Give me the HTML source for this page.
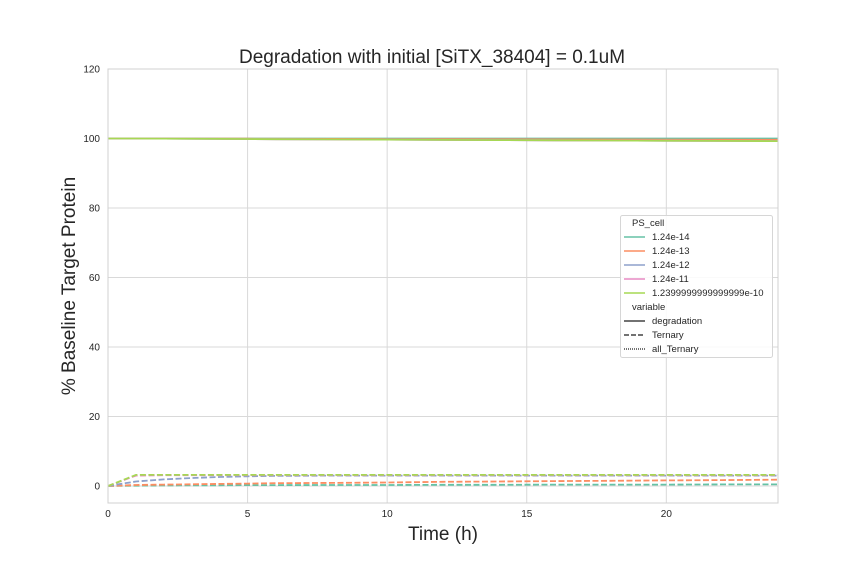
<!DOCTYPE html>
<html><head><meta charset="utf-8"><style>
body{margin:0;background:#fff;}
svg{font-family:"Liberation Sans",sans-serif;display:block;}
</style></head><body>
<svg id="chart" width="864" height="576">
<rect width="864" height="576" fill="#fff"/>
<g id="grid"></g>
<g id="series"></g>
<rect x="108" y="69" width="670" height="434" fill="none" stroke="#d0d0d0" stroke-width="1"/>
<g id="ticks" font-size="10" fill="#262626"></g>
<text x="432" y="63" text-anchor="middle" font-size="19" fill="#262626">Degradation with initial [SiTX_38404] = 0.1uM</text>
<text x="443" y="540" text-anchor="middle" font-size="19" fill="#262626">Time (h)</text>
<text transform="translate(75,286) rotate(-90)" text-anchor="middle" font-size="19" fill="#262626">% Baseline Target Protein</text>
<g font-size="9.5" fill="#262626">
<rect x="620.5" y="215.5" width="152" height="142" rx="2" fill="#fff" fill-opacity="0.85" stroke="#d6d6d6"/>
<text x="632" y="226">PS_cell</text>
<g><line x1="624" y1="237" x2="645" y2="237" stroke="#66c2a5" stroke-width="1.5"/><text x="652" y="240">1.24e-14</text></g>
<g><line x1="624" y1="251" x2="645" y2="251" stroke="#fc8d62" stroke-width="1.5"/><text x="652" y="254">1.24e-13</text></g>
<g><line x1="624" y1="265" x2="645" y2="265" stroke="#8da0cb" stroke-width="1.5"/><text x="652" y="268">1.24e-12</text></g>
<g><line x1="624" y1="279" x2="645" y2="279" stroke="#e78ac3" stroke-width="1.5"/><text x="652" y="282">1.24e-11</text></g>
<g><line x1="624" y1="293" x2="645" y2="293" stroke="#a6d854" stroke-width="1.5"/><text x="652" y="296">1.2399999999999999e-10</text></g>
<text x="632" y="310">variable</text>
<g><line x1="624" y1="321" x2="645" y2="321" stroke="#444" stroke-width="1.5"/><text x="652" y="324">degradation</text></g>
<g><line x1="624" y1="335" x2="645" y2="335" stroke="#444" stroke-width="1.5" stroke-dasharray="5,2"/><text x="652" y="338">Ternary</text></g>
<g><line x1="624" y1="349" x2="645" y2="349" stroke="#444" stroke-width="1.5" stroke-dasharray="1,1"/><text x="652" y="352">all_Ternary</text></g>
</g>
</svg>
<script>
const times=[0,1,2,3,4,5,6,8,10,12,14,16,18,20,22,24];
const colors=["#66c2a5","#fc8d62","#8da0cb","#e78ac3","#a6d854"];
const degradation=[
[100,100,100,100,100,100,100,100,100,100,100,100,100,100,100,100],
[100,100,100,99.98,99.96,99.94,99.92,99.88,99.84,99.8,99.77,99.74,99.71,99.68,99.65,99.62],
[100,100,99.97,99.93,99.89,99.85,99.81,99.74,99.67,99.6,99.54,99.48,99.42,99.37,99.32,99.28],
[100,100,99.97,99.93,99.89,99.85,99.81,99.74,99.67,99.6,99.54,99.48,99.42,99.37,99.32,99.28],
[100,100,99.97,99.93,99.89,99.85,99.81,99.74,99.67,99.6,99.54,99.48,99.42,99.37,99.32,99.25]];
const ternary=[
[0,0.1,0.15,0.2,0.2,0.25,0.25,0.3,0.3,0.35,0.35,0.4,0.4,0.4,0.45,0.45],
[0,0.3,0.4,0.5,0.6,0.7,0.8,0.9,1.0,1.2,1.3,1.4,1.5,1.6,1.7,1.8],
[0,1.3,1.9,2.3,2.6,2.8,2.9,3.0,3.0,3.0,3.0,3.0,3.0,3.0,3.0,3.0],
[0,3.0,3.1,3.1,3.1,3.1,3.1,3.1,3.1,3.1,3.1,3.1,3.1,3.1,3.1,3.1],
[0,3.2,3.2,3.2,3.2,3.2,3.2,3.2,3.2,3.2,3.2,3.2,3.2,3.2,3.2,3.2]];
const xTicks=[0,5,10,15,20];
const yTicks=[0,20,40,60,80,100,120];
const NS="http://www.w3.org/2000/svg";
const X=v=>108+v*670/24;
const Y=v=>486-v*417/120;
const grid=document.getElementById('grid'),tk=document.getElementById('ticks'),se=document.getElementById('series');
function mk(tag,attrs,parent){const e=document.createElementNS(NS,tag);for(const k in attrs)e.setAttribute(k,attrs[k]);parent.appendChild(e);return e;}
xTicks.forEach(t=>{
 const l=mk('line',{x1:X(t),x2:X(t),y1:69,y2:503,stroke:'#d9d9d9'},grid);
 
 
 const tx=mk('text',{x:X(t),y:517,'text-anchor':'middle'},tk);tx.textContent=t;
 
 
});
yTicks.forEach(t=>{
 const l=mk('line',{x1:108,x2:778,y1:Y(t),y2:Y(t),stroke:'#d9d9d9'},grid);
 
 
 const tx=mk('text',{x:100,y:Y(t)+3.5,'text-anchor':'end'},tk);tx.textContent=t;
 
 
});
function path(arr){return arr.map((v,i)=>(i?'L':'M')+X(times[i]).toFixed(1)+','+Y(v).toFixed(1)).join('');}
ternary.forEach((s,i)=>{
 const p=mk('path',{d:path(s),fill:'none',stroke:colors[i],'stroke-width':1.8,'stroke-dasharray':'6,2.5'},se);
 
 
});
degradation.forEach((s,i)=>{
 const p=mk('path',{d:path(s),fill:'none',stroke:colors[i],'stroke-width':1.8},se);
 
 
});
</script>
</body></html>
